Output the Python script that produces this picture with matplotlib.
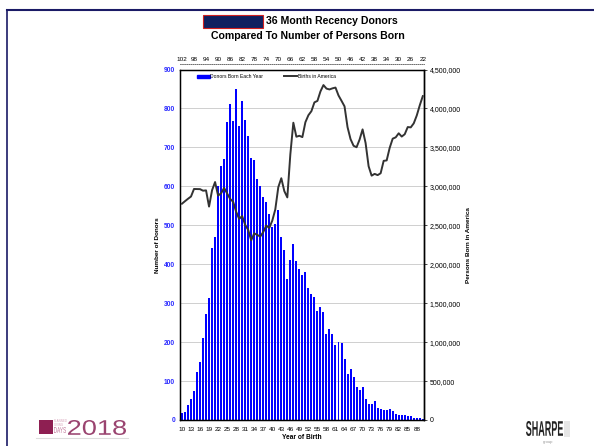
import matplotlib
matplotlib.use('Agg')
import matplotlib.pyplot as plt
from matplotlib.patches import Rectangle, PathPatch
from matplotlib.lines import Line2D
from matplotlib.textpath import TextPath
from matplotlib.font_manager import FontProperties
from matplotlib.transforms import Affine2D, IdentityTransform

plt.rcParams['font.family'] = ['Liberation Sans', 'DejaVu Sans']

# ---- data ----
years = list(range(1910, 1991))
donors = [18, 21, 38, 55, 75, 124, 149, 210, 271, 312,
          441, 471, 600, 652, 671, 766, 812, 767, 850, 754,
          819, 770, 728, 673, 668, 620, 602, 573, 561, 528,
          495, 503, 538, 471, 436, 362, 411, 451, 409, 387,
          373, 379, 338, 324, 315, 279, 291, 277, 221, 234,
          220, 193, 200, 199, 156, 118, 130, 111, 86, 78,
          85, 55, 40, 42, 50, 32, 27, 25, 25, 27,
          22, 16, 12, 12, 13, 9, 9, 5, 5, 4, 3]
births = [2777000, 2809000, 2840000, 2869000, 2966000, 2965000, 2964000, 2944000, 2948000, 2740000,
          2950000, 3055000, 2882000, 2910000, 2979000, 2909000, 2839000, 2802000, 2674000, 2582000,
          2618000, 2506000, 2440000, 2307000, 2396000, 2377000, 2355000, 2413000, 2496000, 2466000,
          2559000, 2703000, 2989000, 3104000, 2939000, 2858000, 3411000, 3817000, 3637000, 3649000,
          3632000, 3823000, 3913000, 3965000, 4078000, 4097000, 4218000, 4300000, 4255000, 4244000,
          4258000, 4268000, 4167000, 4098000, 4027000, 3760000, 3606000, 3521000, 3502000, 3600000,
          3731000, 3556000, 3258000, 3137000, 3160000, 3144000, 3168000, 3327000, 3333000, 3494000,
          3612000, 3629000, 3681000, 3639000, 3669000, 3761000, 3757000, 3809000, 3910000, 4041000,
          4158000]
bottom_ticks = list(range(1910, 1990, 3))
top_ticks = list(range(1910, 1991, 4))
ref_year = 2012

W, H = 594, 446
fig = plt.figure(figsize=(W / 100, H / 100), dpi=100)
ax = fig.add_axes([180 / W, 1 - 420 / H, 244 / W, 350.5 / H])


def stretched_text(s, x0, y_top, width, height, color, weight='bold'):
    # text drawn as a path, squeezed into a pixel box (top-left origin)
    tp = TextPath((0, 0), s, size=1, prop=FontProperties(
        family='Liberation Sans', weight=weight))
    bb = tp.get_extents()
    tr = (Affine2D().translate(-bb.x0, -bb.y0)
          .scale(width / bb.width, height / bb.height)
          .translate(x0, H - y_top - height))
    fig.add_artist(PathPatch(tr.transform_path(tp), facecolor=color,
                             edgecolor='none', transform=IdentityTransform()))


ax.bar(years, donors, width=0.66, color='#0000FF', zorder=2,
       label='Donors Born Each Year')
ax.set_xlim(1909.35, 1990.4)
ax.set_ylim(0, 900)
ax.set_yticks(range(0, 901, 100))
ax.yaxis.grid(True, color='#C8C8C8', linewidth=0.6, zorder=0)
ax.set_axisbelow(True)
ax.tick_params(axis='y', labelsize=4.8, labelcolor='#2A2AFF', length=0, pad=3.5)
for t in ax.get_yticklabels():
    t.set_fontweight('bold')
ax.set_xticks(bottom_ticks)
ax.set_xticklabels([f'{y % 100:02d}' for y in bottom_ticks])
ax.tick_params(axis='x', labelsize=4.6, length=0, pad=5)
ax.set_xlabel('Year of Birth', fontsize=4.8, fontweight='bold', labelpad=1.5)
ax.set_ylabel('Number of Donors', fontsize=4.6, fontweight='bold', labelpad=2.5)
for s in ax.spines.values():
    s.set_linewidth(1.0)
    s.set_color('black')

ax2 = ax.twinx()
ax2.plot(years, births, color='#333333', linewidth=1.4, zorder=3,
         label='Births in America')
ax2.set_ylim(0, 4500000)
ax2.set_yticks(range(0, 4500001, 500000))
ax2.set_yticklabels([f'{v:,}' for v in range(0, 4500001, 500000)])
ax2.tick_params(axis='y', labelsize=5.0, length=2.5, width=0.5, pad=1.5)
ax2.set_ylabel('Persons Born in America', fontsize=4.6, fontweight='bold',
               labelpad=4)
ax2.spines['right'].set_linewidth(1.0)

ax3 = ax.twiny()
ax3.set_xlim(ax.get_xlim())
ax3.set_xticks(top_ticks)
ax3.set_xticklabels([str(ref_year - y) for y in top_ticks])
ax3.tick_params(axis='x', labelsize=4.6, length=0, pad=1.5)
ax3.spines['top'].set_position(('outward', 4))
ax3.spines['top'].set_linestyle((0, (1, 1.5)))
ax3.spines['top'].set_linewidth(0.6)
ax3.spines['top'].set_color('#555555')
for k in ('left', 'right', 'bottom'):
    ax3.spines[k].set_visible(False)

handles = [Rectangle((0, 0), 1, 1, color='#0000FF'),
           Line2D([0], [0], color='#333333', linewidth=1.4)]
ax.legend(handles, ['Donors Born Each Year', 'Births in America'],
          loc='upper left', bbox_to_anchor=(0.05, 1.0), ncol=2, frameon=False,
          fontsize=3.6, handlelength=2.6, handleheight=0.7,
          handletextpad=0.15, columnspacing=4.2, borderaxespad=0.5)

# ---- slide frame ----
fig.add_artist(Line2D([7 / W, 1.0], [1 - 10 / H] * 2, color='#1A1A66',
                      linewidth=1.5))
fig.add_artist(Line2D([7 / W] * 2, [0, 1 - 10 / H], color='#1A1A66',
                      linewidth=1.2))

# ---- title ----
fig.add_artist(Rectangle((203 / W, 1 - 28 / H), 60 / W, 13 / H,
                         facecolor='#0F2060', edgecolor='#D02020',
                         linewidth=0.8))
fig.text(266 / W, 1 - 21.5 / H, '36 Month Recency Donors', fontsize=7.6,
         fontweight='bold', ha='left', va='center')
fig.text(308 / W, 1 - 36 / H, 'Compared To Number of Persons Born',
         fontsize=7.6, fontweight='bold', ha='center', va='center')

# ---- logos ----
fig.add_artist(Rectangle((39 / W, 1 - 434 / H), 14 / W, 14 / H,
                         facecolor='#8E1F52', edgecolor='none'))
fig.text(54 / W, 1 - 423 / H, 'PLANNED\nGIVING', fontsize=2.2,
         color='#D9A8BE', ha='left', va='center', linespacing=1.0)
stretched_text('DAYS', 54, 427, 12, 6, '#C27A9C', weight='normal')
stretched_text('2018', 68, 420, 58, 15, '#9A4470', weight='normal')
fig.add_artist(Line2D([36 / W, 128 / W], [1 - 438 / H] * 2,
                      color='#DDDDDD', linewidth=0.8))
stretched_text('SHARPE', 526, 421, 37, 15, '#222222')
fig.add_artist(Rectangle((564 / W, 1 - 437 / H), 6 / W, 16 / H,
                         facecolor='#E6E6E6', edgecolor='none'))
fig.text(548 / W, 1 - 442 / H, 'group', fontsize=3, color='#999999',
         ha='center', va='center')

fig.savefig('out.png', dpi=100, facecolor='white')
